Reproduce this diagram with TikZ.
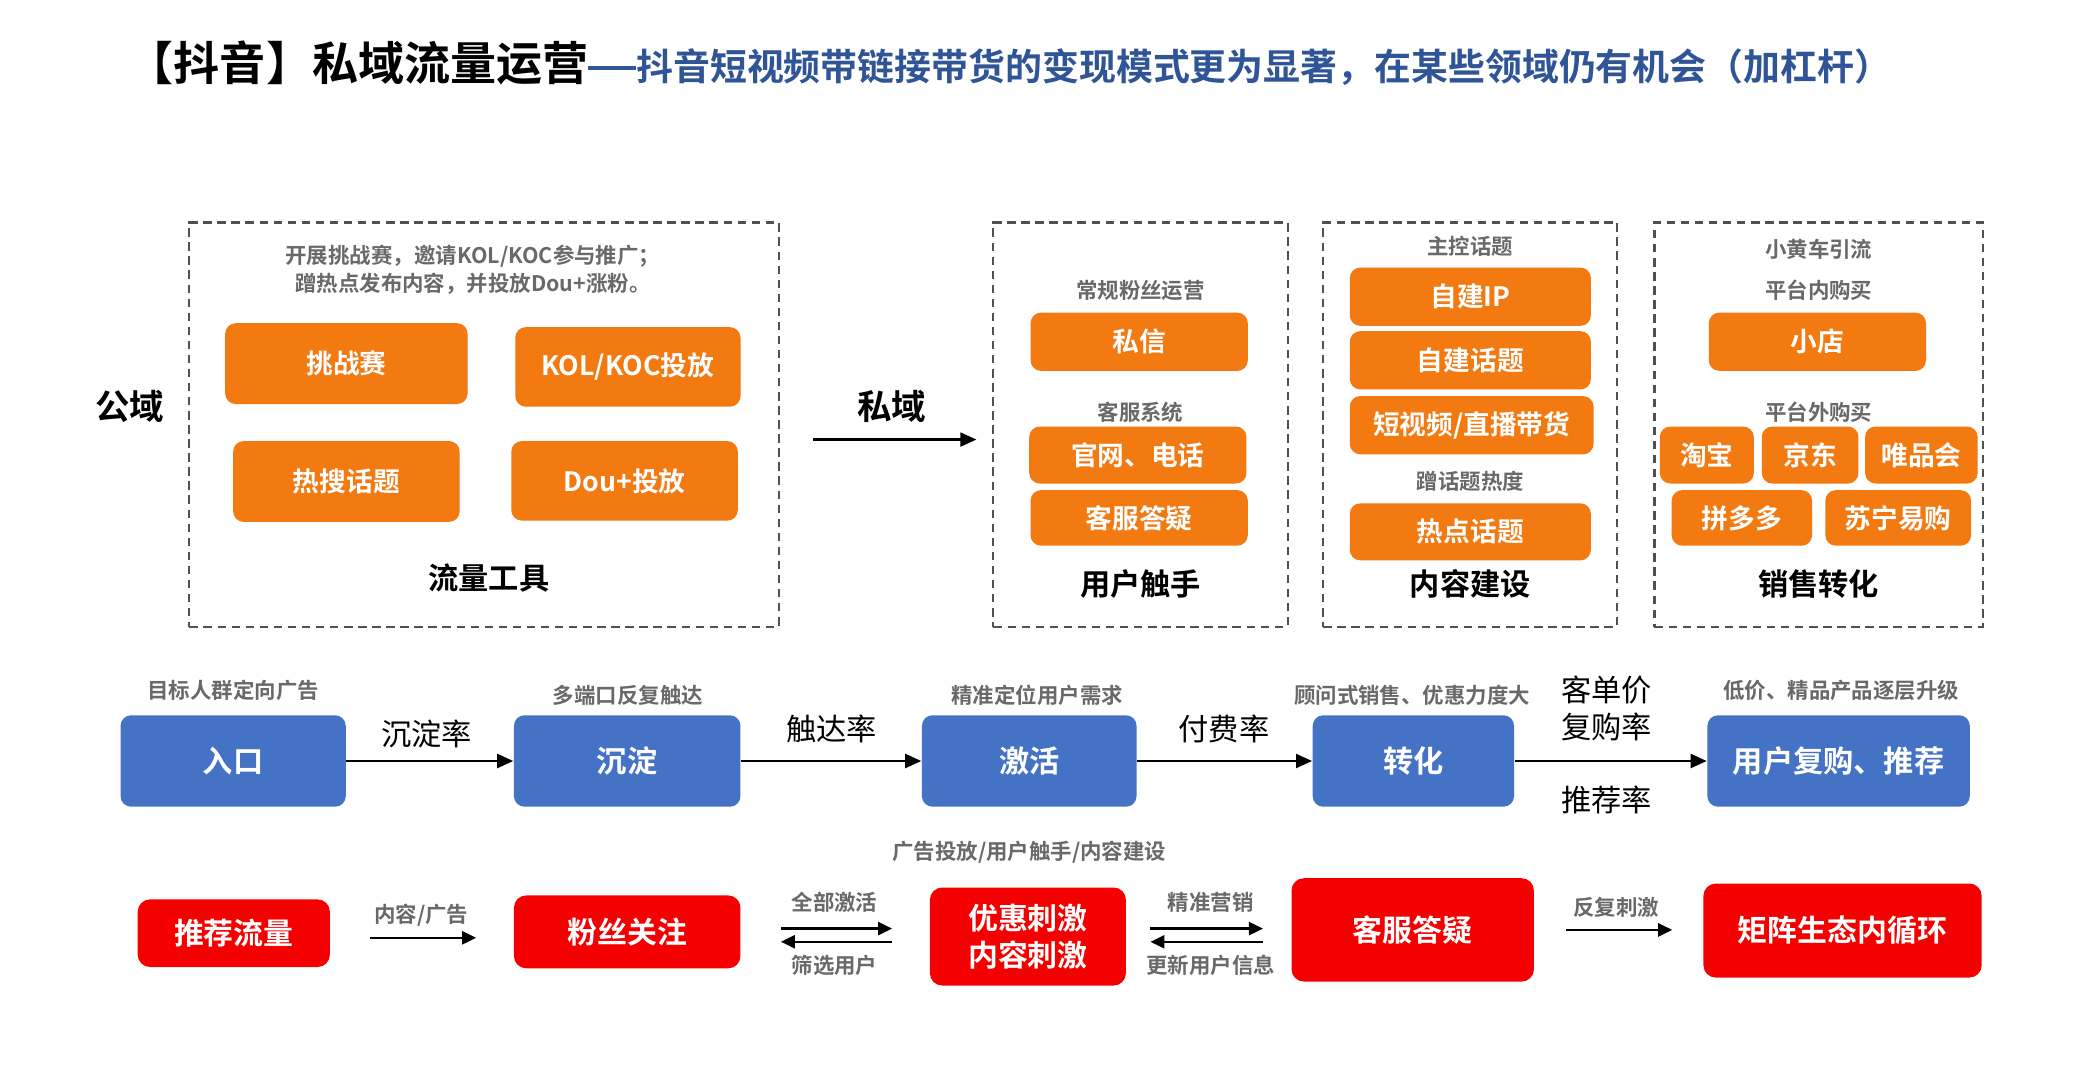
\documentclass[tikz,border=0pt]{standalone}
\usepackage{fontspec}
\setmainfont{Noto Sans CJK SC}[BoldFont={Noto Sans CJK SC Bold}]
\definecolor{orng}{RGB}{243,121,17}
\definecolor{blu}{RGB}{68,114,196}
\definecolor{rd}{RGB}{245,0,0}
\definecolor{titleblue}{RGB}{47,85,151}
\definecolor{notegray}{RGB}{105,105,105}
\definecolor{dashgray}{RGB}{80,80,80}
\usetikzlibrary{arrows.meta, positioning}

\begin{document}
\begin{tikzpicture}[x=0.013246cm, y=-0.013246cm,
    dbox/.style={draw=dashgray, dash pattern=on 2.4pt off 1.6pt, line width=0.6pt,
                 minimum height=4.04cm, inner sep=0},
    obox/.style={fill=orng, rounded corners=3pt, text=white, inner sep=0,
                 font=\bfseries\fontsize{7.6}{9}\selectfont},
    bbox/.style={fill=blu, rounded corners=3pt, text=white, inner sep=0,
                 minimum height=0.914cm, font=\bfseries\fontsize{8.6}{10}\selectfont},
    rbox/.style={fill=rd, rounded corners=3.5pt, text=white, inner sep=0, align=center,
                 font=\bfseries\fontsize{8.5}{10.5}\selectfont},
    note/.style={text=notegray, inner sep=0, align=center,
                 font=\bfseries\fontsize{6.1}{7.9}\selectfont},
    head/.style={inner sep=0, font=\bfseries\fontsize{8.6}{10}\selectfont},
    rate/.style={inner sep=0, font=\fontsize{8.6}{10}\selectfont},
    arr/.style={-{Triangle[length=1.6mm, width=1.4mm]}, line width=0.6pt},
    sarr/.style={-{Triangle[length=1.4mm, width=1.3mm]}, line width=0.7pt}
]
\useasboundingbox[fill=white] (0,0) rectangle (1568,815);

\node[anchor=west, inner sep=0, font=\bfseries\fontsize{13.1}{14}\selectfont] (title) at (96,48)
    {【抖音】私域流量运营{\color{titleblue}\fontsize{10.5}{12}\selectfont\rule[0.3em]{1.3em}{0.11em}抖音短视频带链接带货的变现模式更为显著，在某些领域仍有机会（加杠杆）}};

\node[dbox, minimum width=5.894cm] (tools) at (365.5,320.5) {};
\node[dbox, minimum width=2.941cm] (touch) at (861,320.5) {};
\node[dbox, minimum width=2.941cm] (content) at (1110,320.5) {};
\node[dbox, minimum width=3.285cm] (sales) at (1373,320.5) {};

\node[head, font=\bfseries\fontsize{9.8}{11}\selectfont] (public) at (98,307) {公域};
\node[head, font=\bfseries\fontsize{9.8}{11}\selectfont] (private) at (673,307) {私域};
\draw[arr, shorten <=0.33cm, shorten >=0.16cm] ([yshift=-0.15cm]tools.east) -- ([yshift=-0.15cm]touch.west);

\node[note] (toolsnote) at (357,203.5) {开展挑战赛，邀请KOL/KOC参与推广；\\蹭热点发布内容，并投放Dou+涨粉。};
\node[obox, minimum width=2.424cm, minimum height=0.808cm] (challenge) at (261.5,274.5) {挑战赛};
\node[obox, minimum width=2.252cm, minimum height=0.795cm] (kol) at (474,277) {KOL/KOC投放};
\node[obox, minimum width=2.265cm, minimum height=0.808cm] (hotsearch) at (261.5,363.5) {热搜话题};
\node[obox, minimum width=2.265cm, minimum height=0.795cm] (douplus) at (471.5,363) {Dou+投放};
\node[head] (toolshead) at (369,436) {流量工具};

\node[note] (fannote) at (861,219) {常规粉丝运营};
\node[obox, minimum width=2.172cm, minimum height=0.583cm] (dm) at (860,258) {私信};
\node[note] (csnote) at (861,311) {客服系统};
\node[obox, minimum width=2.172cm, minimum height=0.570cm] (site) at (859,343.5) {官网、电话};
\node[obox, minimum width=2.172cm, minimum height=0.556cm] (csqa) at (860,391) {客服答疑};
\node[head] (touchhead) at (861,441) {用户触手};

\node[note] (topicnote) at (1110,186) {主控话题};
\node[obox, minimum width=2.411cm, minimum height=0.583cm] (ip) at (1110,224) {自建IP};
\node[obox, minimum width=2.411cm, minimum height=0.583cm] (topic) at (1110,272) {自建话题};
\node[obox, minimum width=2.437cm, minimum height=0.583cm] (live) at (1111,321) {短视频/直播带货};
\node[note] (heatnote) at (1110,363) {蹭话题热度};
\node[obox, minimum width=2.411cm, minimum height=0.570cm] (hot) at (1110,401.5) {热点话题};
\node[head] (contenthead) at (1110,441) {内容建设};

\node[note] (cartnote) at (1373,188) {小黄车引流};
\node[note] (innote) at (1373,219) {平台内购买};
\node[obox, minimum width=2.172cm, minimum height=0.583cm] (shop) at (1372,258) {小店};
\node[note] (outnote) at (1373,311) {平台外购买};
\node[obox, minimum width=0.940cm, minimum height=0.570cm] (taobao) at (1288.5,343.5) {淘宝};
\node[obox, minimum width=0.967cm, minimum height=0.570cm] (jd) at (1366.5,343.5) {京东};
\node[obox, minimum width=1.126cm, minimum height=0.570cm] (vip) at (1450.5,343.5) {唯品会};
\node[obox, minimum width=1.404cm, minimum height=0.556cm] (pdd) at (1315,391) {拼多多};
\node[obox, minimum width=1.457cm, minimum height=0.556cm] (suning) at (1433,391) {苏宁易购};
\node[head] (saleshead) at (1373,441) {销售转化};

\node[bbox, minimum width=2.252cm] (entry) at (176,574.5) {入口};
\node[bbox, minimum width=2.265cm] (settle) at (473.5,574.5) {沉淀};
\node[bbox, minimum width=2.146cm] (activate) at (777,574.5) {激活};
\node[bbox, minimum width=2.013cm] (convert) at (1067,574.5) {转化};
\node[bbox, minimum width=2.623cm] (repurchase) at (1388,574.5) {用户复购、推荐};

\node[note] (entrynote) at (176,521) {目标人群定向广告};
\node[note] (settlenote) at (474,525) {多端口反复触达};
\node[note] (activatenote) at (783,525) {精准定位用户需求};
\node[note] (convertnote) at (1066,525) {顾问式销售、优惠力度大};
\node[note] (repurchasenote) at (1390,521) {低价、精品产品逐层升级};

\draw[arr] (entry) -- (settle);
\draw[arr] (settle) -- (activate);
\draw[arr] (activate) -- (convert);
\draw[arr] (convert) -- (repurchase);

\node[rate] (settlerate) at (322,554) {沉淀率};
\node[rate] (reachrate) at (628,550) {触达率};
\node[rate] (payrate) at (924,550) {付费率};
\node[rate] (pricerate) at (1213,521) {客单价};
\node[rate] (againrate) at (1213,549) {复购率};
\node[rate] (recrate) at (1213,604) {推荐率};

\node[rbox, minimum width=1.921cm, minimum height=0.676cm] (rec) at (176.5,704.5) {推荐流量};
\node[rbox, minimum width=2.265cm, minimum height=0.729cm] (fans) at (473.5,703.5) {粉丝关注};
\node[rbox, minimum width=1.960cm, minimum height=0.980cm] (stim) at (776,707) {优惠刺激\\内容刺激};
\node[rbox, minimum width=2.424cm, minimum height=1.033cm] (service) at (1066.5,702) {客服答疑};
\node[rbox, minimum width=2.782cm, minimum height=0.940cm] (matrix) at (1391,702.5) {矩阵生态内循环};

\node[note] (adnote) at (777,643) {广告投放/用户触手/内容建设};
\node[note] (adlabel) at (318,691) {内容/广告};
\node[note] (alllabel) at (630,681) {全部激活};
\node[note] (filterlabel) at (630,729) {筛选用户};
\node[note] (preciselabel) at (914,681) {精准营销};
\node[note] (updatelabel) at (914,729) {更新用户信息};
\node[note] (againlabel) at (1220,685) {反复刺激};

\draw[sarr, shorten <=0.397cm, shorten >=0.371cm] ([yshift=-0.046cm]rec.east) -- ([yshift=-0.046cm]rec.east -| fans.west);
\draw[sarr, shorten <=0.397cm, shorten >=0.371cm] ([yshift=0.033cm]fans.east) -- ([yshift=0.033cm]fans.east -| stim.west);
\draw[sarr, shorten <=0.371cm, shorten >=0.397cm] ([yshift=-0.099cm]fans.east -| stim.west) -- ([yshift=-0.099cm]fans.east);
\draw[sarr, shorten <=0.238cm, shorten >=0.278cm] ([yshift=0.079cm]stim.east) -- ([yshift=0.079cm]stim.east -| service.west);
\draw[sarr, shorten <=0.278cm, shorten >=0.238cm] ([yshift=-0.053cm]stim.east -| service.west) -- ([yshift=-0.053cm]stim.east);
\draw[sarr, shorten <=0.318cm, shorten >=0.305cm] (service.east) -- (service.east -| matrix.west);
\end{tikzpicture}
\end{document}
